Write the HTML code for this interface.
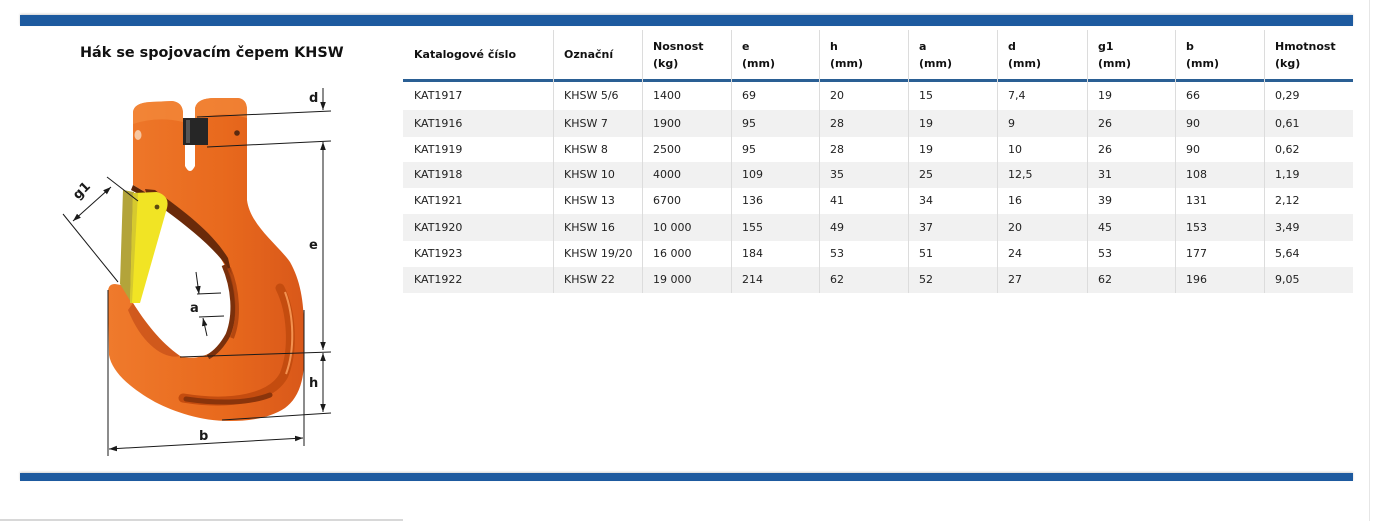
<!DOCTYPE html>
<html>
<head>
<meta charset="utf-8">
<style>
  html,body{margin:0;padding:0;background:#fff;}
  body{width:1374px;height:521px;position:relative;overflow:hidden;font-family:"DejaVu Sans","Liberation Sans",sans-serif;}
  .bar{position:absolute;left:20px;width:1333px;height:11px;background:#1d5a9f;box-shadow:0 -1px 2px rgba(0,0,0,0.18);}
  .title{position:absolute;left:80px;top:42px;font:bold 14.4px "DejaVu Sans",sans-serif;color:#111;white-space:nowrap;line-height:22px;}
  .row{position:absolute;left:403px;width:950px;display:grid;grid-template-columns:150px 89px 89px 88px 89px 89px 90px 88px 89px 89px;}
  .row div{padding-left:11px;font-size:11px;color:#222;white-space:nowrap;}
  .g{background:#f1f1f1;}
  .hdr{top:30px;height:49px;}
  .hdr div{font-weight:bold;color:#111;line-height:17px;display:flex;flex-direction:column;justify-content:center;height:49px;}
  .hl{position:absolute;left:403px;top:79px;width:950px;height:3px;background:#2a5f94;}
  .vs{position:absolute;top:30px;width:1px;height:263px;background:#dcdcdc;}
</style>
</head>
<body>
<div class="bar" style="top:15px"></div>
<div class="bar" style="top:473px;height:8px"></div>
<div style="position:absolute;left:0;top:519px;width:403px;height:2px;background:#d8d8d8"></div>
<div style="position:absolute;left:1369px;top:0;width:1px;height:521px;background:#e6e6e6"></div>

<div class="title">Hák se spojovacím čepem KHSW</div>

<div class="row hdr">
  <div>Katalogové číslo</div><div>Označní</div><div><span>Nosnost</span><span>(kg)</span></div><div><span>e</span><span>(mm)</span></div><div><span>h</span><span>(mm)</span></div><div><span>a</span><span>(mm)</span></div><div><span>d</span><span>(mm)</span></div><div><span>g1</span><span>(mm)</span></div><div><span>b</span><span>(mm)</span></div><div><span>Hmotnost</span><span>(kg)</span></div>
</div>
<div class="hl"></div>

<div class="row" style="top:82px;height:28px;line-height:28px"><div>KAT1917</div><div>KHSW 5/6</div><div>1400</div><div>69</div><div>20</div><div>15</div><div>7,4</div><div>19</div><div>66</div><div>0,29</div></div>
<div class="row g" style="top:110px;height:27px;line-height:27px"><div>KAT1916</div><div>KHSW 7</div><div>1900</div><div>95</div><div>28</div><div>19</div><div>9</div><div>26</div><div>90</div><div>0,61</div></div>
<div class="row" style="top:137px;height:25px;line-height:25px"><div>KAT1919</div><div>KHSW 8</div><div>2500</div><div>95</div><div>28</div><div>19</div><div>10</div><div>26</div><div>90</div><div>0,62</div></div>
<div class="row g" style="top:162px;height:26px;line-height:26px"><div>KAT1918</div><div>KHSW 10</div><div>4000</div><div>109</div><div>35</div><div>25</div><div>12,5</div><div>31</div><div>108</div><div>1,19</div></div>
<div class="row" style="top:188px;height:26px;line-height:26px"><div>KAT1921</div><div>KHSW 13</div><div>6700</div><div>136</div><div>41</div><div>34</div><div>16</div><div>39</div><div>131</div><div>2,12</div></div>
<div class="row g" style="top:214px;height:27px;line-height:27px"><div>KAT1920</div><div>KHSW 16</div><div>10 000</div><div>155</div><div>49</div><div>37</div><div>20</div><div>45</div><div>153</div><div>3,49</div></div>
<div class="row" style="top:241px;height:26px;line-height:26px"><div>KAT1923</div><div>KHSW 19/20</div><div>16 000</div><div>184</div><div>53</div><div>51</div><div>24</div><div>53</div><div>177</div><div>5,64</div></div>
<div class="row g" style="top:267px;height:26px;line-height:26px"><div>KAT1922</div><div>KHSW 22</div><div>19 000</div><div>214</div><div>62</div><div>52</div><div>27</div><div>62</div><div>196</div><div>9,05</div></div>

<div class="vs" style="left:553px"></div>
<div class="vs" style="left:642px"></div>
<div class="vs" style="left:731px"></div>
<div class="vs" style="left:819px"></div>
<div class="vs" style="left:908px"></div>
<div class="vs" style="left:997px"></div>
<div class="vs" style="left:1087px"></div>
<div class="vs" style="left:1175px"></div>
<div class="vs" style="left:1264px"></div>

<svg width="1374" height="521" viewBox="0 0 1374 521" style="position:absolute;left:0;top:0">
  <defs>
    <linearGradient id="og" x1="0" y1="0" x2="1" y2="0">
      <stop offset="0" stop-color="#ef7a2c"/>
      <stop offset="0.6" stop-color="#e8691d"/>
      <stop offset="1" stop-color="#d9581a"/>
    </linearGradient>
    <marker id="ar" viewBox="0 0 10 10" refX="10" refY="5" markerWidth="8" markerHeight="8" markerUnits="userSpaceOnUse" orient="auto-start-reverse">
      <path d="M0,1.5 L10,5 L0,8.5 z" fill="#1a1a1a"/>
    </marker>
  </defs>

  <path d="M133,112 Q134,103 150,102 L172,101 Q182,102 183,112 L183,118 L195,118 L195,108 Q197,98 215,98 L238,98 Q247,99 247,110 L247,200
           C250,225 278,245 290,262 C300,280 304,300 304,330 L304,360 C304,385 296,400 285,408 C270,418 250,421 230,421
           C200,421 175,412 155,402 C130,388 112,372 109,355 L108,292 Q108,284 115,284 Q125,285 128,290 L133,303
           C145,322 160,342 180,356 C197,361 216,355 228,335 C236,315 235,290 226,268 C215,245 195,228 167,207 L150,195 L133,185 Z"
        fill="url(#og)"/>
  <path d="M185,143 L195,143 L195,166 Q190,176 185,166 Z" fill="#fff"/>
  <path d="M133,112 Q134,103 150,102 L172,101 Q182,102 183,112 L183,122 Q158,116 133,124 Z" fill="#f48a3c" opacity="0.7"/>
  <path d="M195,108 Q197,98 215,98 L238,98 Q247,99 247,110 L247,118 Q220,110 195,120 Z" fill="#f48a3c" opacity="0.7"/>
  <rect x="183" y="118" width="25" height="27" fill="#262626"/>
  <rect x="186" y="120" width="4" height="23" fill="#555"/>
  <ellipse cx="138" cy="135" rx="3.5" ry="5" fill="#f7c6a0"/>
  <circle cx="237" cy="133" r="2.8" fill="#5a2a10"/>
  <path d="M133,185 L150,195 L146,198 L131,190 Z" fill="#5a2408"/>
  <path d="M145,189 L155,190 C185,212 212,232 228,258 L232,275 C222,255 195,232 165,210 L147,196 Z" fill="#6a2a0a"/>
  <!-- throat right shadow -->
  <path d="M224,265 C234,288 236,315 228,335 C222,346 215,353 208,357" fill="none" stroke="#7a300c" stroke-width="5"/>
  <path d="M229,268 C238,290 240,318 232,338" fill="none" stroke="#a8400e" stroke-width="4" opacity="0.8"/>
  <path d="M280,288 C292,312 294,350 284,375 C272,398 232,406 183,398" fill="none" stroke="#c44c0f" stroke-width="9" stroke-linecap="round"/>
  <path d="M270,395 C250,403 220,404 186,399" fill="none" stroke="#8a340b" stroke-width="5" stroke-linecap="round"/>
  <path d="M285,292 C294,316 295,350 286,374" fill="none" stroke="#f39250" stroke-width="2"/>
  <path d="M133,303 C145,322 160,342 180,356 C165,360 142,345 128,310 Z" fill="#c9521a" opacity="0.8"/>

  <path d="M123,190 L134,192 L131,302 L120,284 Z" fill="#b3a43a"/>
  <path d="M133,193 L157,192 Q170,196 167,208 L140,303 L130,303 Z" fill="#f1e424"/>
  <path d="M133,193 L138,193 L132,303 L130,303 Z" fill="#d6c92e"/>
  <circle cx="157" cy="207" r="2.4" fill="#5a4a10"/>

  <g stroke="#1a1a1a" stroke-width="1" fill="none">
    <line x1="197" y1="117" x2="331" y2="111"/>
    <line x1="207" y1="147" x2="331" y2="141"/>
    <line x1="180" y1="357" x2="331" y2="352"/>
    <line x1="222" y1="420" x2="331" y2="413"/>
    <line x1="323" y1="88" x2="323" y2="110" marker-end="url(#ar)"/>
    <line x1="323" y1="142" x2="323" y2="350" marker-start="url(#ar)" marker-end="url(#ar)"/>
    <line x1="323" y1="353" x2="323" y2="412" marker-start="url(#ar)" marker-end="url(#ar)"/>
    <line x1="108" y1="290" x2="108" y2="456"/>
    <line x1="304" y1="310" x2="304" y2="446"/>
    <line x1="109" y1="449" x2="303" y2="438" marker-start="url(#ar)" marker-end="url(#ar)"/>
    <line x1="107" y1="177" x2="138" y2="201"/>
    <line x1="63" y1="214" x2="118" y2="282"/>
    <line x1="73" y1="221" x2="111" y2="187" marker-start="url(#ar)" marker-end="url(#ar)"/>
    <line x1="196" y1="272" x2="199" y2="294" marker-end="url(#ar)"/>
    <line x1="207" y1="336" x2="203" y2="318" marker-end="url(#ar)"/>
    <line x1="197" y1="294" x2="221" y2="293"/>
    <line x1="199" y1="317" x2="224" y2="316"/>
  </g>
  <g font-family="DejaVu Sans, Liberation Sans, sans-serif" font-weight="bold" font-size="13" fill="#1a1a1a">
    <text x="309" y="102">d</text>
    <text x="309" y="249">e</text>
    <text x="309" y="387">h</text>
    <text x="199" y="440">b</text>
    <text x="190" y="312">a</text>
    <text x="0" y="0" transform="translate(78,200) rotate(-45)">g1</text>
  </g>
</svg>
</body>
</html>
